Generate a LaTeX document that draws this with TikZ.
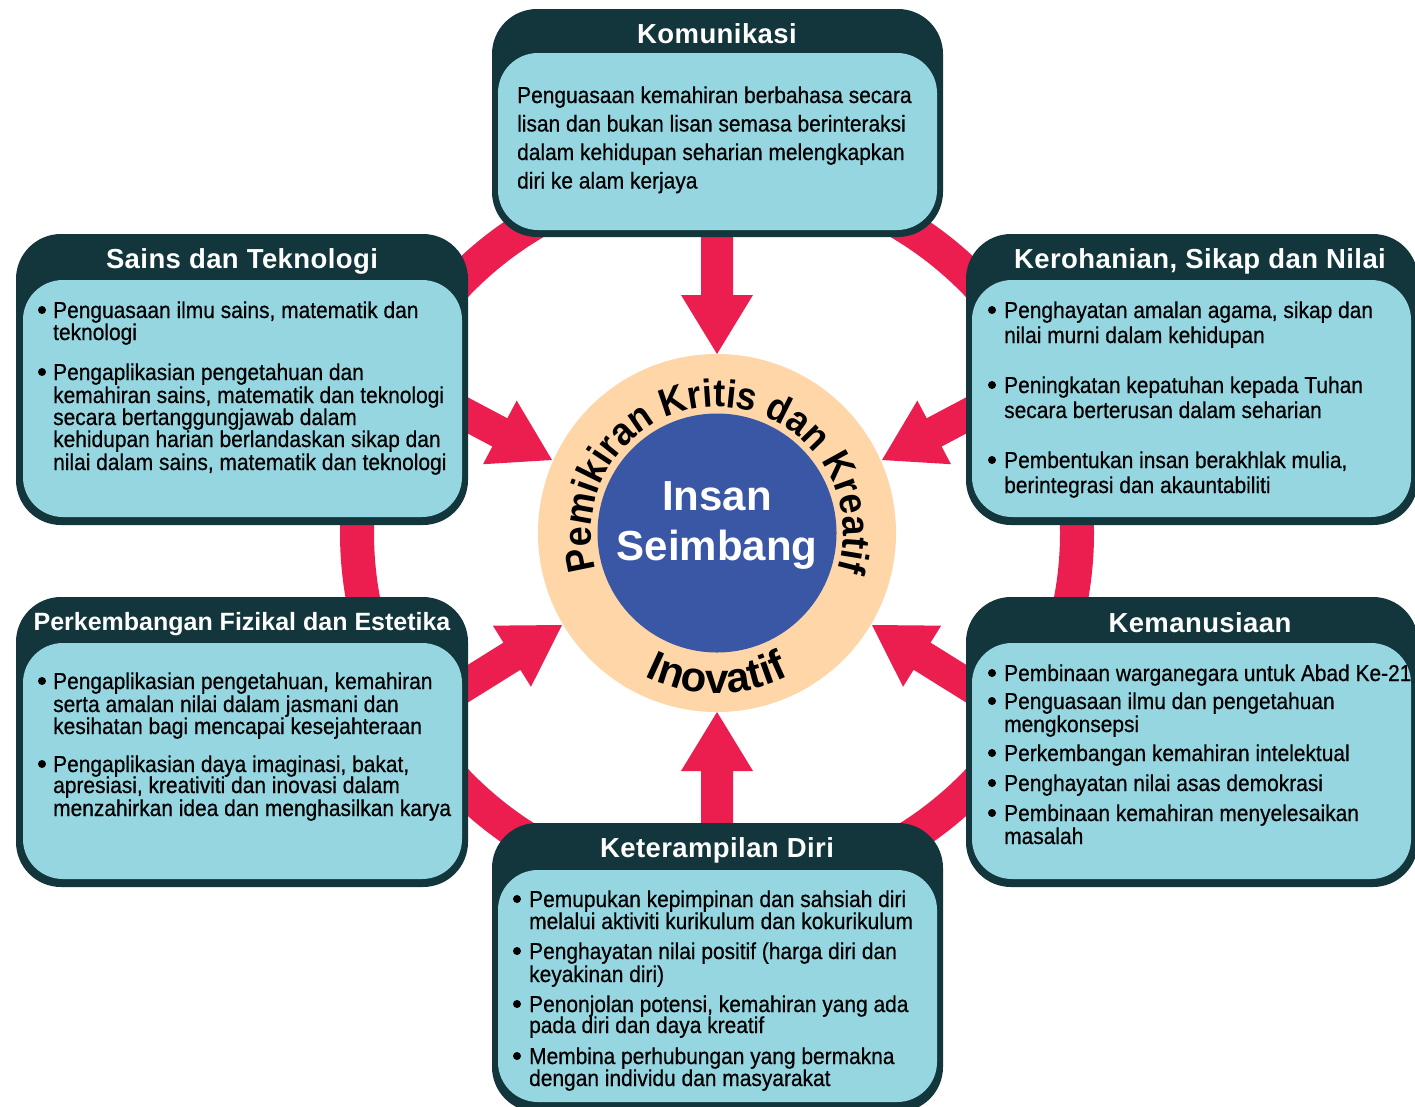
\documentclass[tikz,border=0pt]{standalone}
\usepackage{fontspec}
\setmainfont{Liberation Sans}
\newfontfamily\bodyfam{Liberation Sans}[FakeStretch=0.91, FakeBold=0.6]
\newfontfamily\ringfam{Liberation Sans}[FakeStretch=0.92]
\newfontfamily\titlefam{Liberation Sans}[LetterSpace=1.5]
\usetikzlibrary{decorations.text}
\definecolor{pinkc}{HTML}{EC1E50}
\definecolor{darkc}{HTML}{12363B}
\definecolor{lightc}{HTML}{96D6E0}
\definecolor{peachc}{HTML}{FED6A8}
\definecolor{bluec}{HTML}{3A57A6}
\newcommand{\bodyfont}{\bodyfam\fontsize{23}{23}\selectfont}
\newcommand{\titlefont}{\titlefam\bfseries\fontsize{27.5}{28}\selectfont}
\newcommand{\ringfont}{\ringfam\bfseries\fontsize{39}{39}\selectfont}
\newcommand{\inofont}{\bfseries\fontsize{42}{42}\selectfont}
\newcommand{\blockarrow}[5]{% name, tip x, tip y, dx, dy
  \coordinate (#1) at (#2,#3);
  \fill[pinkc] (#1)
    -- ({#2-59*(#4)-36*(#5)},{#3-59*(#5)+36*(#4)})
    -- ({#2-59*(#4)-16*(#5)},{#3-59*(#5)+16*(#4)})
    -- ({#2-130*(#4)-16*(#5)},{#3-130*(#5)+16*(#4)})
    -- ({#2-130*(#4)+16*(#5)},{#3-130*(#5)-16*(#4)})
    -- ({#2-59*(#4)+16*(#5)},{#3-59*(#5)-16*(#4)})
    -- ({#2-59*(#4)+36*(#5)},{#3-59*(#5)-36*(#4)}) -- cycle;}
\begin{document}
\begin{tikzpicture}[x=1pt,y=-1pt,
  outerbox/.style={fill=darkc, rounded corners=45pt, inner sep=0pt, draw=none},
  innerbox/.style={fill=lightc, rounded corners=40pt, inner sep=0pt, draw=none},
  ttl/.style={text=white, font=\titlefont, anchor=base, inner sep=0pt},
  bt/.style={anchor=base west, inner sep=0pt, font=\bodyfont, text=black},
  bul/.style={fill=black},
  ]
\fill[white] (0,0) rectangle (1415,1106);
\useasboundingbox (0,0) rectangle (1415,1106);
\clip (0,0) rectangle (1415,1106);

% pink ring
\node[circle, draw=pinkc, line width=34pt, minimum size=720pt, inner sep=0pt] (bigring) at (717,533) {};

% arrows
\blockarrow{aT}{717}{354}{0}{1}
\blockarrow{aB}{717}{712}{0}{-1}
\blockarrow{aUL}{552}{460}{0.884}{0.468}
\blockarrow{aUR}{882}{460}{-0.884}{0.468}
\blockarrow{aLL}{562}{625}{0.849}{-0.529}
\blockarrow{aLR}{872}{625}{-0.849}{-0.529}

% boxes
\node[outerbox, minimum width=451pt, minimum height=228pt] (komO) at (717.5,123) {};
\node[innerbox, minimum width=439pt, minimum height=177pt] (komI) at (717.5,141.5) {};
\node[outerbox, minimum width=452pt, minimum height=291pt] (saiO) at (242,379.5) {};
\node[innerbox, minimum width=439pt, minimum height=237pt] (saiI) at (242.5,398.5) {};
\node[outerbox, minimum width=452pt, minimum height=291pt] (kerO) at (1192,379.5) {};
\node[innerbox, minimum width=439pt, minimum height=237pt] (kerI) at (1191.5,398.5) {};
\node[outerbox, minimum width=452pt, minimum height=290pt] (perO) at (242,742) {};
\node[innerbox, minimum width=439pt, minimum height=236pt] (perI) at (242.5,761) {};
\node[outerbox, minimum width=452pt, minimum height=290pt] (kemO) at (1192,742) {};
\node[innerbox, minimum width=439pt, minimum height=236pt] (kemI) at (1191.5,761) {};
\node[outerbox, minimum width=451pt, minimum height=289pt] (ketO) at (717.5,967.5) {};
\node[innerbox, minimum width=439pt, minimum height=232pt] (ketI) at (717.5,986) {};

% centre
\node[circle, fill=peachc, minimum size=358pt, inner sep=0pt] (peach) at (717,533) {};
\node[circle, fill=bluec, minimum size=239pt, inner sep=0pt] (core) at (717,533) {};
\node[text=white, font=\bfseries\fontsize{42}{42}\selectfont, anchor=base, inner sep=0pt] (insan) at (717,510) {Insan};
\node[text=white, font=\bfseries\fontsize{42}{42}\selectfont, anchor=base, inner sep=0pt] (seimbang) at (717,560) {Seimbang};
\begin{scope}[shift={(717,533)}, x=1pt, y=1pt]
\path[decorate, decoration={text along path, text align=center,
  text={|\ringfont|Pemikiran Kritis dan Kreatif}}]
  (215:126) arc[start angle=215, end angle=-35, radius=126];
\path[decorate, decoration={text along path, text align=center,
  text={|\inofont|Inovatif}}]
  (230:160) arc[start angle=230, end angle=310, radius=160];
\end{scope}

% titles
\node[ttl] (tkom) at (717,43) {Komunikasi};
\node[ttl] (tsai) at (242,268) {Sains dan Teknologi};
\node[ttl] (tker) at (1200,268) {Kerohanian, Sikap dan Nilai};
\node[ttl, font=\bfseries\fontsize{25}{26}\selectfont] (tper) at (242,630) {Perkembangan Fizikal dan Estetika};
\node[ttl] (tkem) at (1200,632) {Kemanusiaan};
\node[ttl] (tket) at (717,857) {Keterampilan Diri};

% Komunikasi text
\node[bt] (k1) at (517,103) {Penguasaan kemahiran berbahasa secara};
\node[bt] (k2) at (517,131.5) {lisan dan bukan lisan semasa berinteraksi};
\node[bt] (k3) at (517,160) {dalam kehidupan seharian melengkapkan};
\node[bt] (k4) at (517,188.5) {diri ke alam kerjaya};

% Sains
\fill[bul] (42,310) circle[radius=4];
\fill[bul] (42,372) circle[radius=4];
\node[bt] (s1) at (53,318) {Penguasaan ilmu sains, matematik dan};
\node[bt] (s2) at (53,340) {teknologi};
\node[bt] (s3) at (53,380) {Pengaplikasian pengetahuan dan};
\node[bt] (s4) at (53,403) {kemahiran sains, matematik dan teknologi};
\node[bt] (s5) at (53,425) {secara bertanggungjawab dalam};
\node[bt] (s6) at (53,447) {kehidupan harian berlandaskan sikap dan};
\node[bt] (s7) at (53,470) {nilai dalam sains, matematik dan teknologi};

% Kerohanian
\fill[bul] (992,310) circle[radius=4];
\fill[bul] (992,385) circle[radius=4];
\fill[bul] (992,460) circle[radius=4];
\node[bt] (r1) at (1004,318) {Penghayatan amalan agama, sikap dan};
\node[bt] (r2) at (1004,343) {nilai murni dalam kehidupan};
\node[bt] (r3) at (1004,393) {Peningkatan kepatuhan kepada Tuhan};
\node[bt] (r4) at (1004,418) {secara berterusan dalam seharian};
\node[bt] (r5) at (1004,468) {Pembentukan insan berakhlak mulia,};
\node[bt] (r6) at (1004,493) {berintegrasi dan akauntabiliti};

% Perkembangan
\fill[bul] (42,681) circle[radius=4];
\fill[bul] (42,764) circle[radius=4];
\node[bt] (p1) at (53,689) {Pengaplikasian pengetahuan, kemahiran};
\node[bt] (p2) at (53,712) {serta amalan nilai dalam jasmani dan};
\node[bt] (p3) at (53,734) {kesihatan bagi mencapai kesejahteraan};
\node[bt] (p4) at (53,772) {Pengaplikasian daya imaginasi, bakat,};
\node[bt] (p5) at (53,793) {apresiasi, kreativiti dan inovasi dalam};
\node[bt] (p6) at (53,816) {menzahirkan idea dan menghasilkan karya};

% Kemanusiaan
\fill[bul] (992,673) circle[radius=4];
\fill[bul] (992,701) circle[radius=4];
\fill[bul] (992,753) circle[radius=4];
\fill[bul] (992,783) circle[radius=4];
\fill[bul] (992,813) circle[radius=4];
\node[bt] (m1) at (1004,681) {Pembinaan warganegara untuk Abad Ke-21};
\node[bt] (m2) at (1004,709) {Penguasaan ilmu dan pengetahuan};
\node[bt] (m3) at (1004,732) {mengkonsepsi};
\node[bt] (m4) at (1004,761) {Perkembangan kemahiran intelektual};
\node[bt] (m5) at (1004,791) {Penghayatan nilai asas demokrasi};
\node[bt] (m6) at (1004,821) {Pembinaan kemahiran menyelesaikan};
\node[bt] (m7) at (1004,844) {masalah};

% Keterampilan
\fill[bul] (517,899) circle[radius=4];
\fill[bul] (517,951) circle[radius=4];
\fill[bul] (517,1004) circle[radius=4];
\fill[bul] (517,1056) circle[radius=4];
\node[bt] (d1) at (529,907) {Pemupukan kepimpinan dan sahsiah diri};
\node[bt] (d2) at (529,929) {melalui aktiviti kurikulum dan kokurikulum};
\node[bt] (d3) at (529,959) {Penghayatan nilai positif (harga diri dan};
\node[bt] (d4) at (529,982) {keyakinan diri)};
\node[bt] (d5) at (529,1012) {Penonjolan potensi, kemahiran yang ada};
\node[bt] (d6) at (529,1033) {pada diri dan daya kreatif};
\node[bt] (d7) at (529,1064) {Membina perhubungan yang bermakna};
\node[bt] (d8) at (529,1086) {dengan individu dan masyarakat};
\end{tikzpicture}
\end{document}
